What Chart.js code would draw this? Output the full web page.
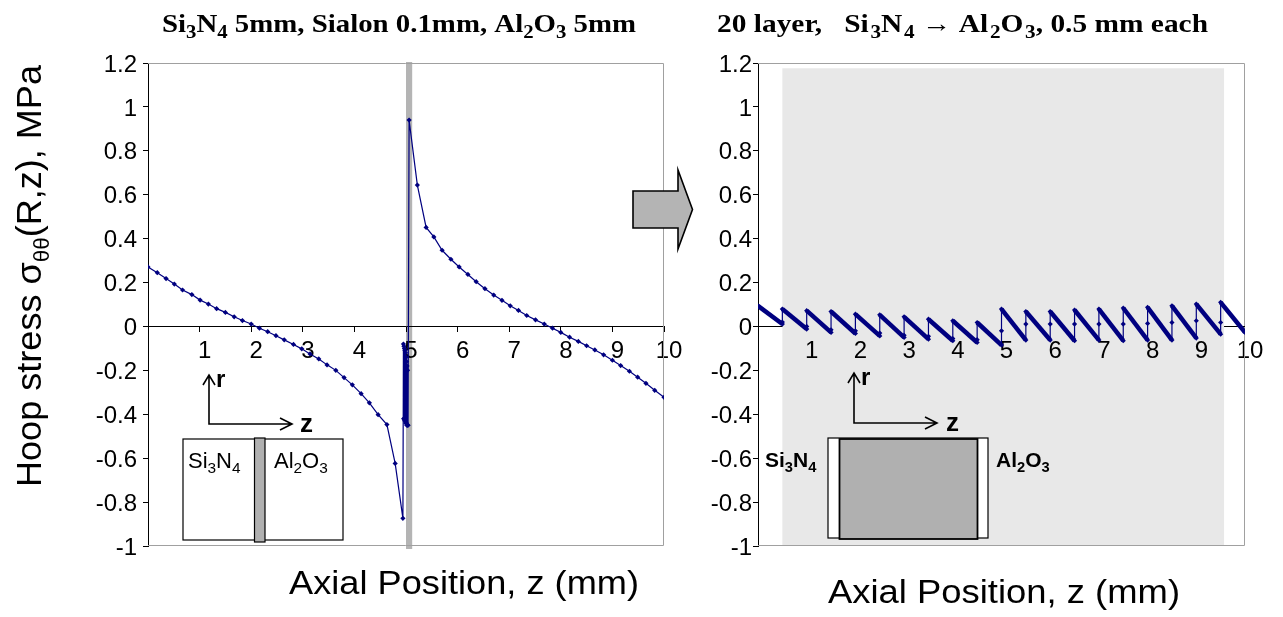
<!DOCTYPE html>
<html>
<head>
<meta charset="utf-8">
<script src="https://cdn.jsdelivr.net/npm/chart.js@4.4.0/dist/chart.umd.min.js"></script>
<style>
  body { margin: 0; background: #fff; }
  #wrap { position: relative; width: 1283px; height: 617px; }
  #leftCanvas { position: absolute; left: 0; top: 0; }
  #rightCanvas { position: absolute; left: 695px; top: 0; }
</style>
</head>
<body>
<div id="wrap">
  <canvas id="leftCanvas" width="695" height="617"></canvas>
  <canvas id="rightCanvas" width="588" height="617"></canvas>
</div>
<script>
// Joint 1: Si3N4 5 mm / Sialon 0.1 mm / Al2O3 5 mm
const bondZ = [0, 0.18, 0.35, 0.51, 0.67, 0.85, 1.01, 1.17, 1.33, 1.5, 1.67, 1.83, 2.0, 2.16, 2.32,
  2.48, 2.64, 2.82, 2.98, 3.14, 3.31, 3.47, 3.64, 3.8, 3.96, 4.13, 4.29, 4.46, 4.63, 4.79, 4.94,
  4.95, 4.955, 4.96, 4.965, 4.97, 4.975, 4.98, 4.985, 4.99, 4.995, 5.0, 5.005, 5.01, 5.015, 5.02,
  5.025, 5.03, 5.035, 5.04,
  5.06, 5.22, 5.39, 5.54, 5.7, 5.87, 6.03, 6.2, 6.36, 6.53, 6.7, 6.86, 7.02, 7.18, 7.34, 7.51,
  7.68, 7.84, 8.0, 8.17, 8.34, 8.5, 8.66, 8.83, 9.0, 9.16, 9.33, 9.49, 9.65, 9.82, 10.0];
const bondStress = [0.271, 0.245, 0.218, 0.193, 0.166, 0.145, 0.12, 0.102, 0.081, 0.064, 0.044,
  0.027, 0.011, -0.008, -0.024, -0.042, -0.061, -0.082, -0.102, -0.125, -0.148, -0.175, -0.2,
  -0.233, -0.266, -0.306, -0.348, -0.402, -0.447, -0.624, -0.874,
  -0.08, -0.42, -0.09, -0.42, -0.1, -0.43, -0.11, -0.43, -0.12, -0.44, -0.14, -0.44, -0.16,
  -0.45, -0.18, -0.45, -0.2, -0.45, -0.45,
  0.94, 0.644, 0.451, 0.408, 0.347, 0.306, 0.271, 0.237, 0.204, 0.172, 0.143, 0.119, 0.094,
  0.073, 0.05, 0.03, 0.011, -0.008, -0.027, -0.049, -0.068, -0.088, -0.107, -0.129, -0.154,
  -0.178, -0.204, -0.231, -0.259, -0.291, -0.323];

// Joint 2: 20 graded layers, Si3N4 -> Al2O3, 0.5 mm each
const layerStart = [0, 0.5, 1, 1.5, 2, 2.5, 3, 3.5, 4, 4.5, 5, 5.5, 6, 6.5, 7, 7.5, 8, 8.5, 9, 9.5];
const layerEndZ = [0.5, 1, 1.5, 2, 2.5, 3, 3.5, 4, 4.5, 5, 5.5, 6, 6.5, 7, 7.5, 8, 8.5, 9, 9.5, 10];
const layerTop = [0.094, 0.079, 0.072, 0.068, 0.056, 0.053, 0.044, 0.033, 0.026, 0.018, 0.079,
  0.068, 0.068, 0.075, 0.079, 0.084, 0.087, 0.094, 0.102, 0.11];
const layerBottom = [0.011, -0.012, -0.027, -0.032, -0.043, -0.05, -0.058, -0.065, -0.073, -0.085,
  -0.062, -0.062, -0.065, -0.062, -0.065, -0.062, -0.062, -0.053, -0.035, -0.027];
const interfaceStress = [0.02, 0.0, -0.015, -0.02, -0.03, -0.04, -0.045, -0.055, -0.06, -0.02,
  0.011, 0.011, 0.011, 0.011, 0.011, 0.014, 0.018, 0.026, 0.018];

const xTicks = [1, 2, 3, 4, 5, 6, 7, 8, 9, 10];
const yTicks = [-1, -0.8, -0.6, -0.4, -0.2, 0, 0.2, 0.4, 0.6, 0.8, 1, 1.2];

const NAVY = '#000080';
const SANS = '"Liberation Sans", Arial, sans-serif';
const SERIF = '"Liberation Serif", "Times New Roman", serif';
Chart.defaults.font.family = SANS;

const bondPoints = bondZ.map((z, i) => ({ x: z, y: bondStress[i] }));
const gradedPoints = [];
layerStart.forEach((z, i) => {
  gradedPoints.push({ x: z, y: layerTop[i] });
  gradedPoints.push({ x: layerEndZ[i], y: layerBottom[i] });
  if (i < interfaceStress.length) gradedPoints.push({ x: layerEndZ[i], y: interfaceStress[i] });
});

// text with subscripts: "Si_3N_4", "σ_{θθ}"
function parseRuns(str) {
  return str.split(/(_\{[^}]*\}|_\d)/).filter(Boolean).map(p => {
    if (p[0] !== '_') return { t: p };
    return { t: p[1] === '{' ? p.slice(2, -1) : p.slice(1), sub: true };
  });
}
function drawRich(ctx, str, x, y, o) {
  const parts = parseRuns(str);
  const font = s => `${o.weight || 'normal'} ${s}px ${o.family || SANS}`;
  const subSize = o.size * (o.subScale || 0.7);
  const gap = o.subGap || 0;
  let w = 0;
  parts.forEach(p => {
    ctx.font = font(p.sub ? subSize : o.size);
    p.w = ctx.measureText(p.t).width + (p.sub ? gap : 0);
    w += p.w;
  });
  const sx = o.fit ? o.fit / w : 1;
  ctx.save();
  ctx.translate(x, y);
  if (o.rotate) ctx.rotate(o.rotate);
  ctx.scale(sx, 1);
  ctx.fillStyle = '#000';
  ctx.textAlign = 'left';
  ctx.textBaseline = 'alphabetic';
  let cx = o.align === 'center' ? -w / 2 : 0;
  parts.forEach(p => {
    ctx.font = font(p.sub ? subSize : o.size);
    ctx.fillText(p.t, cx + (p.sub ? gap : 0), p.sub ? o.size * 0.22 : 0);
    cx += p.w;
  });
  ctx.restore();
}

function axesSketch(ctx, x0, y0, top, right, rx, zx) {
  ctx.save();
  ctx.strokeStyle = '#000';
  ctx.lineWidth = 1.6;
  ctx.beginPath();
  ctx.moveTo(x0, top); ctx.lineTo(x0, y0); ctx.lineTo(right, y0);
  ctx.moveTo(x0 - 6, top + 10); ctx.lineTo(x0, top); ctx.lineTo(x0 + 6, top + 10);
  ctx.moveTo(right - 12, y0 - 6); ctx.lineTo(right, y0); ctx.lineTo(right - 12, y0 + 6);
  ctx.stroke();
  ctx.restore();
  drawRich(ctx, 'r', rx, top + 12, { size: 24, weight: 'bold' });
  drawRich(ctx, 'z', zx, y0 + 8, { size: 26, weight: 'bold' });
}

function frame(chart) {
  const { ctx, chartArea: a } = chart;
  ctx.save();
  ctx.strokeStyle = '#a0a0a0';
  ctx.lineWidth = 1;
  ctx.beginPath();
  ctx.moveTo(a.left, a.top + 0.5); ctx.lineTo(a.right - 0.5, a.top + 0.5);
  ctx.lineTo(a.right - 0.5, a.bottom - 0.5); ctx.lineTo(a.left, a.bottom - 0.5);
  ctx.stroke();
  ctx.restore();
}

function scalesFor(yWidth, yPad, xGrid) {
  return {
    x: {
      type: 'linear', min: 0, max: 10, position: { y: 0 },
      afterBuildTicks: s => { s.ticks = xTicks.map(v => ({ value: v })); },
      ticks: { font: { size: 24 }, color: '#000', padding: 6, labelOffset: 5, maxRotation: 0, autoSkip: false },
      grid: { display: xGrid, drawOnChartArea: false, tickLength: 5, color: '#000' },
      border: { display: xGrid, color: '#000', width: 1 }
    },
    y: {
      min: -1, max: 1.2,
      afterBuildTicks: s => { s.ticks = yTicks.map(v => ({ value: v })); },
      afterFit: s => { s.width = yWidth; },
      ticks: { font: { size: 24 }, color: '#000', padding: yPad, labelOffset: 2, callback: v => String(v) },
      grid: { drawOnChartArea: false, tickLength: 5, color: '#000' },
      border: { color: '#000', width: 1 }
    }
  };
}

const leftDecor = {
  id: 'leftDecor',
  beforeDraw(chart) {
    const { ctx, chartArea: a, scales: { x } } = chart;
    // sialon interlayer
    ctx.save();
    ctx.fillStyle = '#b4b4b4';
    ctx.fillRect(x.getPixelForValue(5.0), a.top - 1, x.getPixelForValue(5.12) - x.getPixelForValue(5.0), a.bottom - a.top + 4);
    ctx.restore();
  },
  beforeDatasetsDraw(chart) { frame(chart); },
  afterDraw(chart) {
    const { ctx } = chart;
    drawRich(ctx, 'Si_3N_4 5mm, Sialon 0.1mm, Al_2O_3 5mm', 162, 32,
      { size: 25, weight: 'bold', family: SERIF, subScale: 0.72, fit: 474 });
    drawRich(ctx, 'Hoop stress σ_{θθ}(R,z), MPa', 41, 276,
      { size: 35, rotate: -Math.PI / 2, align: 'center', subScale: 0.62, fit: 422 });
    drawRich(ctx, 'Axial Position, z (mm)', 289, 594, { size: 33, fit: 350 });

    axesSketch(ctx, 209, 424, 375, 292, 216, 300);
    ctx.save();
    ctx.strokeStyle = '#000';
    ctx.lineWidth = 1.2;
    ctx.fillStyle = '#fff';
    ctx.fillRect(183, 439, 160, 101);
    ctx.strokeRect(183, 439, 160, 101);
    ctx.fillStyle = '#b0b0b0';
    ctx.fillRect(254.5, 438, 10.5, 104);
    ctx.strokeRect(254.5, 438, 10.5, 104);
    ctx.restore();
    drawRich(ctx, 'Si_3N_4', 188, 468, { size: 22 });
    drawRich(ctx, 'Al_2O_3', 274, 468, { size: 22 });

    // block arrow pointing to the graded joint
    ctx.save();
    ctx.beginPath();
    ctx.moveTo(633, 191); ctx.lineTo(678, 191); ctx.lineTo(678, 170);
    ctx.lineTo(692.5, 209.5); ctx.lineTo(678, 249); ctx.lineTo(678, 228);
    ctx.lineTo(633, 228); ctx.closePath();
    ctx.fillStyle = '#b4b4b4';
    ctx.fill();
    ctx.strokeStyle = '#000';
    ctx.lineWidth = 1.6;
    ctx.stroke();
    ctx.restore();
  }
};

const rightDecor = {
  id: 'rightDecor',
  beforeDraw(chart) {
    const { ctx, chartArea: a, scales: { x, y } } = chart;
    // graded region (layers 2..19)
    const g0 = x.getPixelForValue(0.5), g1 = x.getPixelForValue(9.57);
    ctx.save();
    ctx.fillStyle = '#e8e8e8';
    ctx.fillRect(g0, y.getPixelForValue(1.176), g1 - g0, a.bottom - 1 - y.getPixelForValue(1.176));
    ctx.restore();
  },
  beforeDatasetsDraw(chart) {
    const { ctx, chartArea: a, scales: { x, y } } = chart;
    frame(chart);
    const g0 = x.getPixelForValue(0.5), g1 = x.getPixelForValue(9.57);
    const y0 = Math.round(y.getPixelForValue(0)) + 0.5;
    // zero line only outside the graded region
    ctx.save();
    ctx.strokeStyle = '#000';
    ctx.lineWidth = 1;
    ctx.beginPath();
    ctx.moveTo(a.left, y0); ctx.lineTo(g0, y0);
    ctx.moveTo(g1, y0); ctx.lineTo(a.right, y0);
    ctx.stroke();
    ctx.restore();
  },
  afterDraw(chart) {
    const { ctx } = chart;
    drawRich(ctx, '20 layer,   Si_3N_4 → Al_2O_3, 0.5 mm each', 22, 32,
      { size: 25, weight: 'bold', family: SERIF, subScale: 0.72, subGap: 1.5, fit: 491 });
    drawRich(ctx, 'Axial Position, z (mm)', 133, 603, { size: 33, fit: 352 });

    axesSketch(ctx, 159, 423, 373, 242, 166, 251);
    ctx.save();
    ctx.strokeStyle = '#000';
    ctx.lineWidth = 1.2;
    ctx.fillStyle = '#fff';
    ctx.fillRect(133, 438, 160, 100);
    ctx.strokeRect(133, 438, 160, 100);
    ctx.fillStyle = '#b0b0b0';
    ctx.fillRect(144.5, 439, 138, 100);
    ctx.lineWidth = 1.8;
    ctx.strokeRect(144.5, 439, 138, 100);
    ctx.restore();
    drawRich(ctx, 'Si_3N_4', 70, 467, { size: 21, weight: 'bold' });
    drawRich(ctx, 'Al_2O_3', 301, 467, { size: 21, weight: 'bold' });
  }
};

const common = {
  responsive: false,
  animation: false,
  plugins: { legend: { display: false }, tooltip: { enabled: false } }
};

new Chart(document.getElementById('leftCanvas'), {
  type: 'scatter',
  data: {
    datasets: [{
      data: bondPoints, showLine: true,
      borderColor: NAVY, backgroundColor: NAVY, borderWidth: 1.2,
      pointStyle: 'rectRot', pointRadius: 2.6, pointBorderWidth: 0
    }]
  },
  options: Object.assign({}, common, {
    layout: { padding: { left: 0, top: 63, right: 31, bottom: 71 } },
    scales: scalesFor(148, 6, true)
  }),
  plugins: [leftDecor]
});

new Chart(document.getElementById('rightCanvas'), {
  type: 'scatter',
  data: {
    datasets: [{
      data: gradedPoints, showLine: true,
      borderColor: NAVY, backgroundColor: NAVY, borderWidth: 4,
      // heavy stroke across each layer, thin step at each interface
      segment: { borderWidth: c => (c.p0.parsed.x === c.p1.parsed.x ? 1.2 : 4.5) },
      pointStyle: 'rectRot', pointRadius: 2.6, pointBorderWidth: 0
    }]
  },
  options: Object.assign({}, common, {
    layout: { padding: { left: 0, top: 63, right: 38, bottom: 71 } },
    scales: scalesFor(63, 1, false)
  }),
  plugins: [rightDecor]
});
</script>
</body>
</html>
